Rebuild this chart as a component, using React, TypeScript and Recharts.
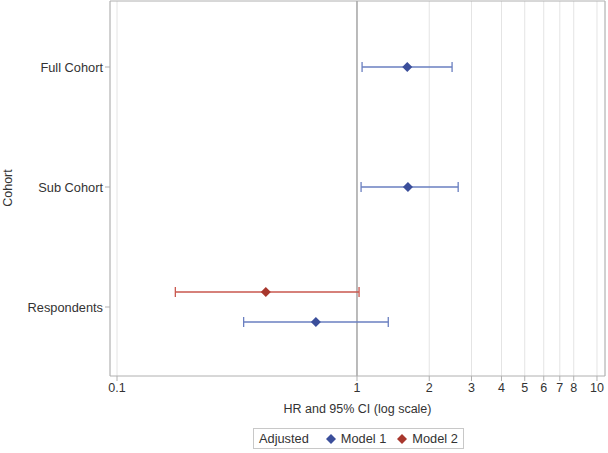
import {
  CartesianGrid,
  ErrorBar,
  ReferenceLine,
  Scatter,
  ScatterChart,
  XAxis,
  YAxis,
} from "recharts";

// cohort rows (top to bottom)
const cohorts = ["Full Cohort", "Sub Cohort", "Respondents"];
const xTicks = [0.1, 1, 2, 3, 4, 5, 6, 7, 8, 9, 10];
const xTickLabels = ["0.1", "1", "2", "3", "4", "5", "6", "7", "8", "", "10"];

// hazard ratios with 95% CI
const model1Row = [1, 2, 3.125];
const model1Hr = [1.62, 1.63, 0.674];
const model1Low = [1.05, 1.04, 0.337];
const model1High = [2.49, 2.64, 1.35];

const model2Row = [2.875];
const model2Hr = [0.417];
const model2Low = [0.175];
const model2High = [1.02];

const BLUE = "#3b4f9b";
const BLUE_LINE = "#6a7fc0";
const RED = "#a8372d";
const RED_LINE = "#c9574e";

const model1 = model1Row.map((r, i) => ({
  row: r,
  hr: model1Hr[i],
  ci: [model1Hr[i] - model1Low[i], model1High[i] - model1Hr[i]],
}));
const model2 = model2Row.map((r, i) => ({
  row: r,
  hr: model2Hr[i],
  ci: [model2Hr[i] - model2Low[i], model2High[i] - model2Hr[i]],
}));

const Diamond = ({ cx, cy, fill }: any) => (
  <path
    d={`M${cx},${cy - 5}L${cx + 5},${cy}L${cx},${cy + 5}L${cx - 5},${cy}Z`}
    fill={fill}
  />
);

function LegendBox() {
  const mark = (c: string) => (
    <svg width={10} height={10} style={{ margin: "0 5px 0 11px" }}>
      <path d="M5,0L10,5L5,10L0,5Z" fill={c} />
    </svg>
  );
  return (
    <div
      style={{
        position: "absolute",
        left: 253,
        top: 428,
        height: 19,
        padding: "0 5px",
        border: "1px solid #c8c8c8",
        display: "flex",
        alignItems: "center",
        fontFamily: "Liberation Sans, Arial, sans-serif",
        fontSize: 12.8,
        color: "#333",
        background: "#fff",
      }}
    >
      <span style={{ marginRight: 6 }}>Adjusted</span>
      {mark(BLUE)}
      <span>Model 1</span>
      {mark(RED)}
      <span>Model 2</span>
    </div>
  );
}

export default function App() {
  const font = "Liberation Sans, Arial, sans-serif";
  const cohortLabel = () => (
    <text
      x={8}
      y={188}
      transform="rotate(-90, 8, 188)"
      textAnchor="middle"
      dominantBaseline="central"
      fontSize={12.5}
      fill="#333"
      fontFamily={font}
    >
      Cohort
    </text>
  );
  return (
    <div
      style={{
        position: "absolute",
        left: 0,
        top: 0,
        width: 608,
        height: 453,
        background: "#fff",
        fontFamily: font,
      }}
    >
      <ScatterChart
        width={608}
        height={453}
        margin={{ top: 1, right: 3, bottom: 38, left: 0 }}
      >
        <CartesianGrid horizontal={false} stroke="#e4e4e4" />
        <XAxis
          type="number"
          dataKey="hr"
          scale="log"
          domain={[0.0935, 10.8]}
          ticks={xTicks}
          allowDataOverflow
          tickFormatter={(v: number) => xTickLabels[xTicks.indexOf(v)] ?? ""}
          tick={{ fontSize: 12.5, fill: "#333", fontFamily: font }}
          tickSize={5}
          axisLine={{ stroke: "#b0b0b0" }}
          tickLine={{ stroke: "#b0b0b0" }}
          height={39}
          label={{
            value: "HR and 95% CI (log scale)",
            position: "insideBottom",
            offset: 2,
            fontSize: 12.5,
            fill: "#333",
            fontFamily: font,
          }}
        />
        <YAxis
          type="number"
          dataKey="row"
          reversed
          domain={[0.45, 3.575]}
          ticks={[1, 2, 3]}
          tickFormatter={(v: number) => cohorts[v - 1]}
          tick={{ fontSize: 12.8, fill: "#333", fontFamily: font }}
          tickSize={5}
          axisLine={{ stroke: "#b0b0b0" }}
          tickLine={{ stroke: "#b0b0b0" }}
          width={110}
          label={{ content: cohortLabel }}
        />
        <ReferenceLine y={0.45} stroke="#b0b0b0" ifOverflow="visible" />
        <ReferenceLine x={10.8} stroke="#b0b0b0" ifOverflow="visible" />
        <ReferenceLine x={1} stroke="#a8a8a8" strokeWidth={1.5} />
        <Scatter
          name="Model 2"
          data={model2}
          fill={RED}
          shape={Diamond}
          isAnimationActive={false}
        >
          <ErrorBar
            dataKey="ci"
            direction="x"
            width={5}
            stroke={RED_LINE}
            strokeWidth={1.3}
            isAnimationActive={false}
          />
        </Scatter>
        <Scatter
          name="Model 1"
          data={model1}
          fill={BLUE}
          shape={Diamond}
          isAnimationActive={false}
        >
          <ErrorBar
            dataKey="ci"
            direction="x"
            width={5}
            stroke={BLUE_LINE}
            strokeWidth={1.3}
            isAnimationActive={false}
          />
        </Scatter>
      </ScatterChart>
      <LegendBox />
    </div>
  );
}
